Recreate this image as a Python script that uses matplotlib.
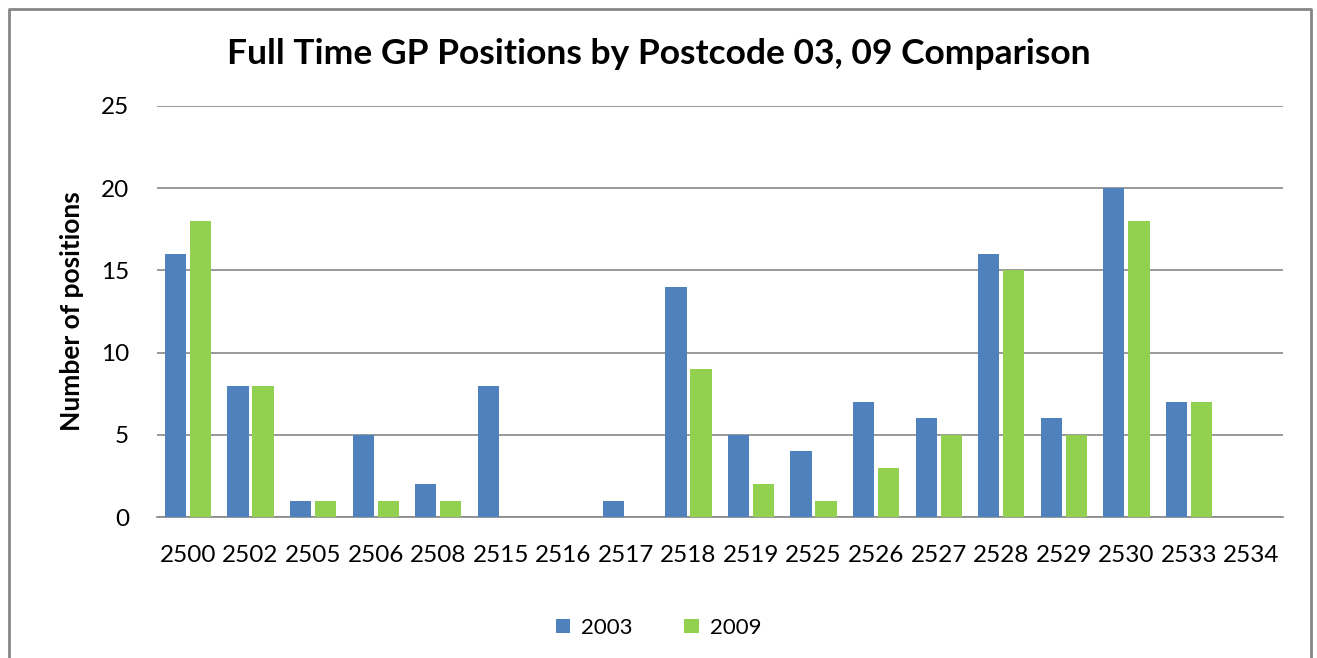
import numpy as np
import matplotlib.pyplot as plt
from matplotlib.lines import Line2D

postcodes = ['2500', '2502', '2505', '2506', '2508', '2515', '2516', '2517', '2518',
             '2519', '2525', '2526', '2527', '2528', '2529', '2530', '2533', '2534']
positions_2003 = [16, 8, 1, 5, 2, 8, 0, 1, 14, 5, 4, 7, 6, 16, 6, 20, 7, 0]
positions_2009 = [18, 8, 1, 1, 1, 0, 0, 0, 9, 2, 1, 3, 5, 15, 5, 18, 7, 0]
y_ticks = [0, 5, 10, 15, 20, 25]

plt.rcParams['font.family'] = ['Lato', 'DejaVu Sans']

fig = plt.figure(figsize=(13.17, 6.58), dpi=100)
ax = fig.add_axes([0.119, 0.214, 0.855, 0.625])

x = np.arange(len(postcodes))
w = 0.34
ax.bar(x - 0.2, positions_2003, w, color='#4f81bd', label='2003', zorder=3)
ax.bar(x + 0.2, positions_2009, w, color='#92d050', label='2009', zorder=3)

ax.set_xlim(-0.5, len(postcodes) - 0.5)
ax.set_ylim(0, 25)
ax.set_yticks(y_ticks)
ax.set_xticks(x)
ax.set_xticklabels(postcodes, fontsize=17.5)
ax.tick_params(axis='y', labelsize=17.5, length=0, pad=20)
ax.tick_params(axis='x', length=0, pad=20)
ax.yaxis.grid(True, color='#888888', linewidth=1.2, zorder=0)
for s in ['top', 'right', 'left']:
    ax.spines[s].set_visible(False)
ax.spines['bottom'].set_color('#888888')
ax.spines['bottom'].set_linewidth(1.2)

ax.set_ylabel('Number of positions', fontsize=19, fontweight='bold', labelpad=12)
fig.text(0.5, 0.918, 'Full Time GP Positions by Postcode 03, 09 Comparison',
         ha='center', va='center', fontsize=25.5, fontweight='bold')

ax.legend(loc='center', bbox_to_anchor=(0.5, 0.046), bbox_transform=fig.transFigure,
          ncol=2, frameon=False, fontsize=16, handlelength=0.65, handleheight=0.65,
          columnspacing=2.3, handletextpad=0.5)

# chart border (left, top, right)
fig.add_artist(Line2D([0.0065, 0.0065, 0.9955, 0.9955], [0.0, 0.987, 0.987, 0.0],
                      transform=fig.transFigure, color='#868686', linewidth=2))

fig.savefig('out.png', dpi=100)
